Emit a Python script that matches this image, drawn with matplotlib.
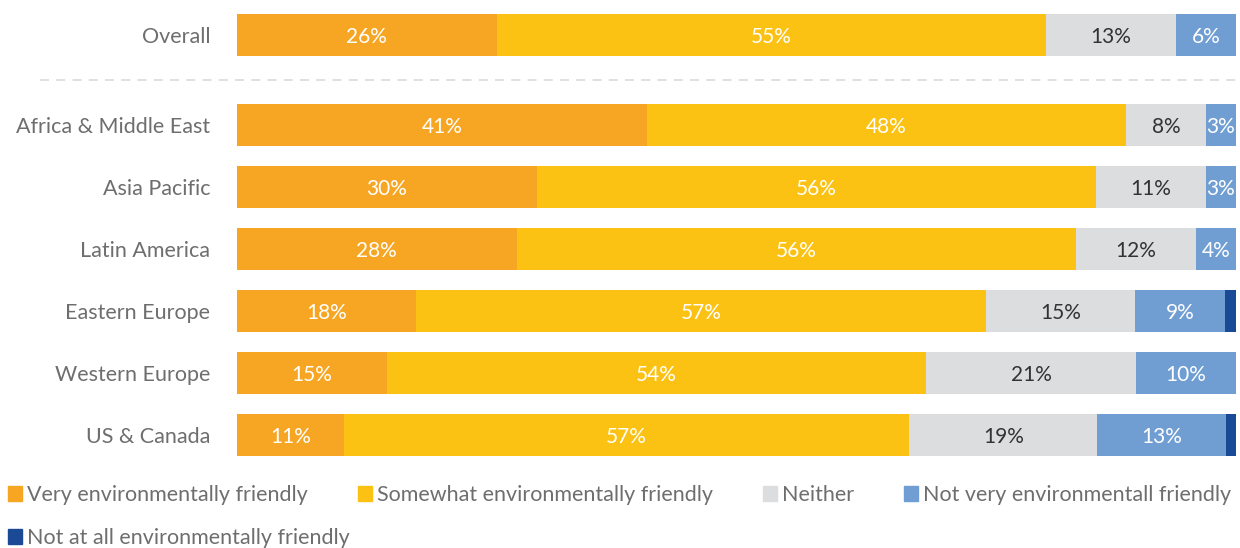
import matplotlib.pyplot as plt
from matplotlib.patches import Patch

plt.rcParams['font.family'] = ['Lato', 'DejaVu Sans']

regions = ['Overall', 'Africa & Middle East', 'Asia Pacific', 'Latin America',
           'Eastern Europe', 'Western Europe', 'US & Canada']
series = ['Very environmentally friendly', 'Somewhat environmentally friendly',
          'Neither', 'Not very environmentall friendly',
          'Not at all environmentally friendly']
very = [26, 41, 30, 28, 17.9, 15, 10.7]
somewhat = [55, 48, 56, 56, 57.1, 54, 56.6]
neither = [13, 8, 11, 12, 14.9, 21, 18.8]
not_very = [6, 3, 3, 4, 9.0, 10, 12.9]
not_at_all = [0, 0, 0, 0, 1.1, 0, 1.0]

colors = ['#F6A623', '#FCC213', '#DCDDDF', '#709ED3', '#1A4A96']
label_colors = ['white', 'white', '#333333', 'white', 'white']

fig = plt.figure(figsize=(12.4, 5.48), dpi=100)
ax = fig.add_axes([237 / 1240, 78 / 548, 999 / 1240, 470 / 548])

# Overall sits apart from the regions, above a dashed rule
ypos = [-1.452, 0, 1, 2, 3, 4, 5]

left = [0] * len(regions)
for vals, col, tcol in zip([very, somewhat, neither, not_very, not_at_all], colors, label_colors):
    ax.barh(ypos, vals, left=left, height=0.69, color=col)
    for y, l, v in zip(ypos, left, vals):
        if v >= 2.5:
            ax.text(l + v / 2, y + 0.03, f'{round(v)}%', ha='center', va='center',
                    color=tcol, fontsize=15)
    left = [a + b for a, b in zip(left, vals)]

ax.plot([-19.7, 100], [-0.726, -0.726], color='#DDDDDD', lw=1.3,
        ls=(0, (5, 4)), clip_on=False)

for y, name in zip(ypos, regions):
    ax.text(-2.7, y + 0.03, name, ha='right', va='center', fontsize=15.5, color='#6E6E6E')

ax.set_xlim(0, 100)
ax.set_ylim(5.565, -2.016)
ax.axis('off')

handles = [Patch(color=c) for c in colors]
leg_kw = dict(frameon=False, fontsize=15.5, handlelength=0.65, handleheight=0.65,
              handletextpad=0.25, columnspacing=2.3, borderaxespad=0, borderpad=0,
              labelcolor='#6E6E6E')
fig.legend(handles[:4], series[:4], ncol=4, loc='center left',
           bbox_to_anchor=(8 / 1240, 1 - 495 / 548), **leg_kw)
fig.legend(handles[4:], series[4:], ncol=1, loc='center left',
           bbox_to_anchor=(8 / 1240, 1 - 538 / 548), **leg_kw)

fig.savefig('out.png', dpi=100)
